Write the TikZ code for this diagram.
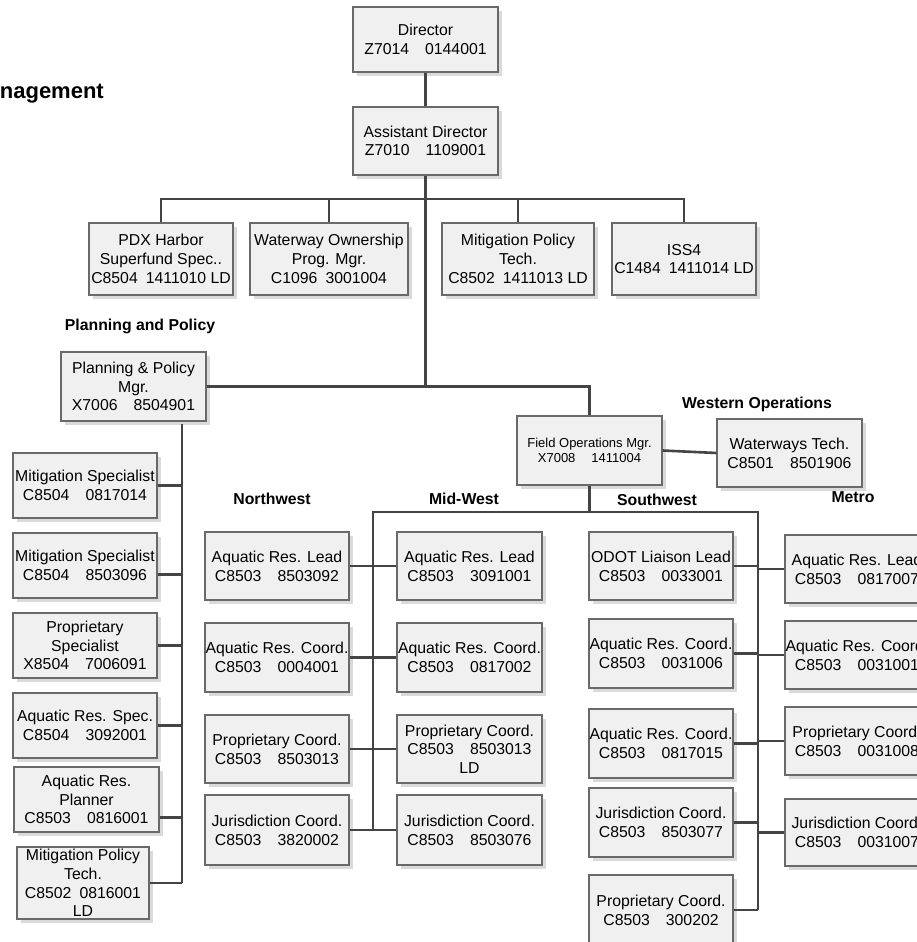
\documentclass[tikz,border=0pt]{standalone}
\usepackage{fontspec}
\setmainfont{Liberation Sans}
\usetikzlibrary{shadows}
\definecolor{boxfill}{RGB}{240,240,240}
\definecolor{boxline}{RGB}{105,105,105}
\definecolor{shadowc}{RGB}{218,218,218}
\definecolor{conn}{RGB}{68,68,68}
\newcommand{\gapL}{\hspace{16pt}}
\newcommand{\gapS}{\hspace{8pt}}
\newcommand{\obox}[7][]{%
  \pgfmathsetmacro{\oboxcx}{(#3+#5)/2}%
  \pgfmathsetmacro{\oboxcy}{(#4+#6)/2}%
  \pgfmathsetmacro{\oboxw}{#5-#3}%
  \pgfmathsetmacro{\oboxh}{#6-#4}%
  \node[orgbox,minimum width=\oboxw pt,minimum height=\oboxh pt,#1] (#2) at (\oboxcx,\oboxcy) {#7};}
\begin{document}
\begin{tikzpicture}[x=1pt,y=-1pt,
  orgbox/.style={draw=boxline,line width=1.1pt,fill=boxfill,inner sep=0pt,align=center,
    font=\fontsize{15.8}{18.7}\selectfont,
    drop shadow={shadow xshift=4pt,shadow yshift=-4pt,fill=shadowc,opacity=1}},
  conline/.style={draw=conn,line width=2.6pt},
  lbl/.style={font=\fontsize{15.8}{18.7}\selectfont\bfseries,inner sep=0pt,anchor=base}]
\useasboundingbox (0,0) rectangle (917,942);
\clip (0,0) rectangle (917,942);

% labels
\node[lbl,anchor=base east,font=\fontsize{22}{26}\selectfont\bfseries] (mgmt) at (104,99) {Management};
\node[lbl] (lpp) at (140,330) {Planning and Policy};
\node[lbl] (lnw) at (272,504) {Northwest};
\node[lbl] (lmw) at (464,504) {Mid-West};
\node[lbl] (lsw) at (657,505) {Southwest};
\node[lbl] (lme) at (853,502) {Metro};
\node[lbl] (lwo) at (757,408) {Western Operations};

% top
\obox{dir}{353}{7}{498}{72}{Director\\Z7014\gapL 0144001}
\obox{ad}{353}{107}{498}{175}{Assistant Director\\Z7010\gapL 1109001}
\obox{pdx}{89}{223}{233}{295}{PDX Harbor\\Superfund Spec..\\C8504\gapS 1411010 LD}
\obox{wo}{250}{223}{408}{295}{Waterway Ownership\\Prog. Mgr.\\C1096\gapS 3001004}
\obox{mpt}{442}{223}{594}{295}{Mitigation Policy\\Tech.\\C8502\gapS 1411013 LD}
\obox{iss}{612}{223}{756}{295}{ISS4\\C1484\gapS 1411014 LD}

% planning and policy
\obox{pp}{61}{352}{206}{421}{Planning \& Policy\\Mgr.\\X7006\gapL 8504901}
\obox{ms1}{13}{453}{157}{518}{Mitigation Specialist\\C8504\gapL 0817014}
\obox{ms2}{13}{533}{157}{598}{Mitigation Specialist\\C8504\gapL 8503096}
\obox{ps}{13}{613}{157}{678}{Proprietary\\Specialist\\X8504\gapL 7006091}
\obox{ars}{13}{693}{157}{758}{Aquatic Res. Spec.\\C8504\gapL 3092001}
\obox{arp}{14}{767}{159}{832}{Aquatic Res.\\Planner\\C8503\gapL 0816001}
\obox{mpt2}{17}{847}{149}{919}{Mitigation Policy\\Tech.\\C8502\gapS 0816001\\LD}

% field operations
\obox[font=\fontsize{13}{15.5}\selectfont]{fo}{517}{416}{662}{485}{Field Operations Mgr.\\X7008\gapL 1411004}
\obox{wt}{717}{419}{862}{487}{Waterways Tech.\\C8501\gapL 8501906}

% northwest
\obox{nw1}{205}{532}{349}{600}{Aquatic Res. Lead\\C8503\gapL 8503092}
\obox{nw2}{205}{623}{349}{692}{Aquatic Res. Coord.\\C8503\gapL 0004001}
\obox{nw3}{205}{715}{349}{783}{Proprietary Coord.\\C8503\gapL 8503013}
\obox{nw4}{205}{795}{349}{865}{Jurisdiction Coord.\\C8503\gapL 3820002}
% mid-west
\obox{mw1}{397}{532}{542}{600}{Aquatic Res. Lead\\C8503\gapL 3091001}
\obox{mw2}{397}{623}{542}{692}{Aquatic Res. Coord.\\C8503\gapL 0817002}
\obox{mw3}{397}{715}{542}{783}{Proprietary Coord.\\C8503\gapL 8503013\\LD}
\obox{mw4}{397}{795}{542}{865}{Jurisdiction Coord.\\C8503\gapL 8503076}
% southwest
\obox{sw1}{589}{532}{733}{600}{ODOT Liaison Lead\\C8503\gapL 0033001}
\obox{sw2}{589}{619}{733}{688}{Aquatic Res. Coord.\\C8503\gapL 0031006}
\obox{sw3}{589}{709}{733}{778}{Aquatic Res. Coord.\\C8503\gapL 0817015}
\obox{sw4}{589}{788}{733}{857}{Jurisdiction Coord.\\C8503\gapL 8503077}
\obox{sw5}{589}{875}{733}{945}{Proprietary Coord.\\C8503\gapL 300202}
% metro
\obox{m1}{785}{535}{929}{603}{Aquatic Res. Lead\\C8503\gapL 0817007}
\obox{m2}{785}{621}{929}{689}{Aquatic Res. Coord.\\C8503\gapL 0031001}
\obox{m3}{785}{707}{929}{775}{Proprietary Coord.\\C8503\gapL 0031008}
\obox{m4}{785}{799}{929}{866}{Jurisdiction Coord.\\C8503\gapL 0031007}

% connectors
\coordinate (b1) at (425.5,199);
\coordinate (ppbus) at (182,424);
\coordinate (nwbus) at (373,512);
\coordinate (swbus) at (758,512);
\coordinate (ms2c) at ([yshift=-9pt]ms2.east);
\coordinate (arpc) at ([yshift=-18pt]arp.east);

\draw[conline] (dir) -- (ad);
\draw[conline] (pdx.north) -- (pdx.north |- b1) -- (iss.north |- b1) -- (iss.north);
\draw[conline] (wo.north) -- (wo.north |- b1);
\draw[conline] (mpt.north) -- (mpt.north |- b1);
\draw[conline] (ad.south) -- (ad.south |- pp.east);
\draw[conline] (pp.east) -- (fo.north |- pp.east) -- (fo.north);
\draw[conline] (fo.east) -- (wt.west);
\draw[conline] (fo.south) -- (fo.south |- nwbus);
\draw[conline] (nw4.east -| nwbus) -- (nwbus) -- (swbus) -- (swbus |- sw5.east);

\draw[conline] (ppbus) -- (ppbus |- mpt2.east);
\foreach \n in {ms1,ps,ars,mpt2} \draw[conline] (\n.east) -- (\n.east -| ppbus);
\draw[conline] (ms2c) -- (ms2c -| ppbus);
\draw[conline] (arpc) -- (arpc -| ppbus);

\foreach \n in {nw1,nw2,nw3,nw4} \draw[conline] (\n.east) -- (\n.east -| nwbus);
\foreach \n in {mw1,mw2,mw3,mw4} \draw[conline] (\n.west) -- (\n.west -| nwbus);
\foreach \n in {sw1,sw2,sw3,sw4,sw5} \draw[conline] (\n.east) -- (\n.east -| swbus);
\foreach \n in {m1,m2,m3,m4} \draw[conline] (\n.west) -- (\n.west -| swbus);
\end{tikzpicture}
\end{document}
